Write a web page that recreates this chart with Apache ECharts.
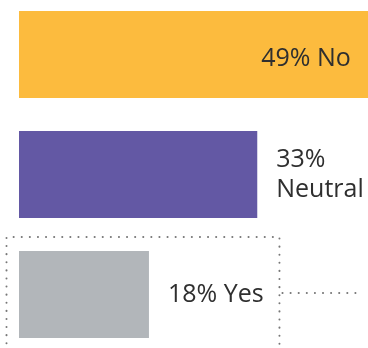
<!DOCTYPE html>
<html>
<head>
<meta charset="utf-8">
<script src="https://cdn.jsdelivr.net/npm/echarts@6/dist/echarts.min.js"></script>
<style>html,body{margin:0;padding:0;background:#fff;}#c{width:368px;height:348px;}</style>
</head>
<body>
<div id="c"></div>
<script>
const categories = ['No', 'Neutral', 'Yes'];
const values = [49, 33, 18];
const labels = ['49% No', '33%\nNeutral', '18% Yes'];
const colors = ['#FCBB3E', '#6358A4', '#B2B6BA'];

const chart = echarts.init(document.getElementById('c'), null, {renderer: 'canvas'});
const labelFont = {fontFamily: '"Open Sans", "Liberation Sans", Arial, sans-serif', fontSize: 25, color: '#2f2f2f', lineHeight: 30};
const data = values.map((v, i) => ({
  value: v,
  itemStyle: {color: colors[i]},
  label: i === 0
    ? Object.assign({show: true, position: 'insideRight', distance: 22, offset: [0, 4], formatter: labels[i]}, labelFont)
    : Object.assign({show: true, position: 'right', distance: 19, formatter: labels[i], align: 'left'}, labelFont)
}));
chart.setOption({
  animation: false,
  grid: {left: 19, top: -5.5, height: 360, right: -12, containLabel: false, outerBoundsMode: 'none'},
  xAxis: {type: 'value', min: 0, max: 50, show: false},
  yAxis: {type: 'category', data: categories, inverse: true, show: false},
  series: [{type: 'bar', data: data, barWidth: 87, clip: true}]
});

// dotted highlight around the "Yes" bar, anchored to its position
const cy = chart.convertToPixel({yAxisIndex: 0}, 'Yes');
const x0 = chart.convertToPixel({xAxisIndex: 0}, 0);
const xv = chart.convertToPixel({xAxisIndex: 0}, values[2]);
const dot = {stroke: '#777', lineWidth: 2, lineDash: [0.1, 8], lineCap: 'round', fill: null};
const boxLeft = x0 - 12.5, boxTop = cy - 57.5, boxRight = xv + 130.5;
chart.setOption({
  graphic: [
    {type: 'polyline', silent: true, shape: {points: [[boxLeft, 400], [boxLeft, boxTop], [boxRight, boxTop], [boxRight, 400]]}, style: dot},
    {type: 'line', silent: true, shape: {x1: boxRight + 3, y1: cy - 1.5, x2: boxRight + 84, y2: cy - 1.5}, style: dot}
  ]
});
</script>
</body>
</html>
